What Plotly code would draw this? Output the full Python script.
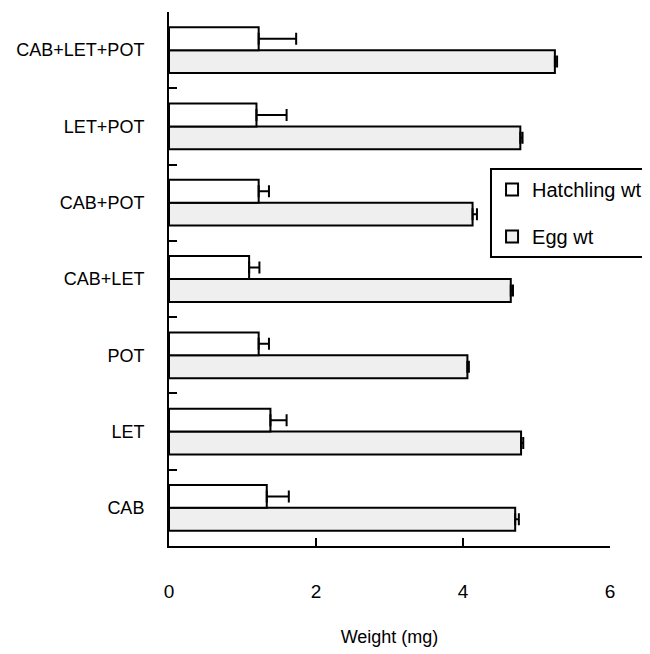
import plotly.graph_objects as go

categories = ["CAB", "LET", "POT", "CAB+LET", "CAB+POT", "LET+POT", "CAB+LET+POT"]
hatch_wt = [1.33, 1.38, 1.22, 1.09, 1.22, 1.19, 1.22]
hatch_err = [0.30, 0.22, 0.14, 0.14, 0.14, 0.41, 0.51]
egg_wt = [4.71, 4.79, 4.06, 4.65, 4.13, 4.78, 5.25]
egg_err = [0.05, 0.03, 0.02, 0.03, 0.06, 0.03, 0.03]

FONT = "Liberation Sans, Arial, sans-serif"

fig = go.Figure()
fig.add_trace(go.Bar(
    y=categories, x=egg_wt, orientation="h", name="Egg wt",
    legendgroup="egg", legendrank=2,
    marker=dict(color="#efefef", line=dict(color="black", width=2)),
    error_x=dict(type="data", array=egg_err, symmetric=False, arrayminus=[0]*7,
                 color="black", thickness=2, width=6),
))
fig.add_trace(go.Bar(
    y=categories, x=hatch_wt, orientation="h", name="Hatchling wt",
    legendgroup="hatch", legendrank=1,
    marker=dict(color="white", line=dict(color="black", width=2)),
    error_x=dict(type="data", array=hatch_err, symmetric=False, arrayminus=[0]*7,
                 color="black", thickness=2, width=6),
))

fig.update_layout(
    width=642, height=646,
    margin=dict(l=161, r=40, t=4, b=108, autoexpand=False),
    paper_bgcolor="white", plot_bgcolor="white",
    barmode="group", bargap=0.4, bargroupgap=0,
    font=dict(family=FONT, size=18, color="black"),
    showlegend=True,
    legend=dict(
        x=0.728, y=0.708, xanchor="left", yanchor="top",
        bordercolor="black", borderwidth=2, bgcolor="white",
        traceorder="grouped", tracegroupgap=18,
        font=dict(family=FONT, size=20, color="black"),
    ),
    xaxis=dict(
        range=[0, 6], tickvals=[0, 2, 4, 6], ticks="inside", ticklen=8, tickwidth=2,
        tickcolor="black", showline=True, linecolor="black", linewidth=2,
        showgrid=False, zeroline=False, ticklabelstandoff=27, automargin=False,
        title=dict(text="Weight (mg)", standoff=30, font=dict(size=18)),
        tickfont=dict(size=19),
    ),
    yaxis=dict(
        type="category", categoryorder="array", categoryarray=categories,
        range=[-0.5, 6.5], tickson="boundaries", ticks="inside", ticklen=8, tickwidth=2,
        tickcolor="black", showline=True, linecolor="black", linewidth=2,
        showgrid=False, zeroline=False, ticklabelstandoff=19, automargin=False,
        tickfont=dict(size=18),
    ),
)

fig.write_html("out.html")
